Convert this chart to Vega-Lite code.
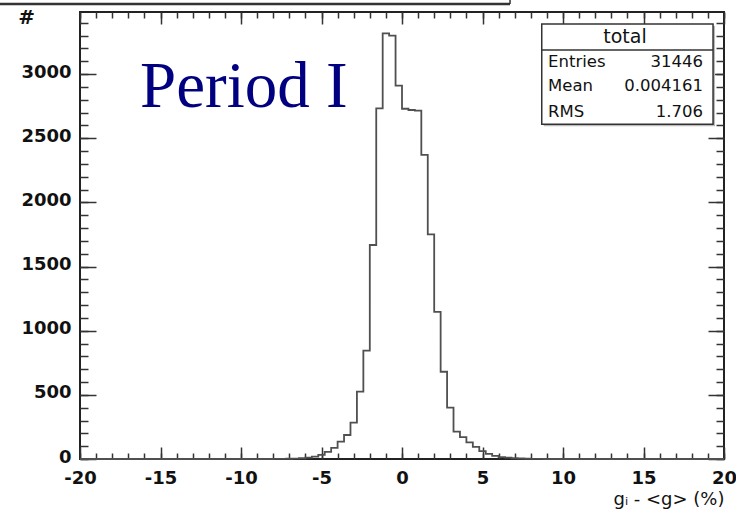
{
  "$schema": "https://vega.github.io/schema/vega-lite/v6.json",
  "width": 644,
  "height": 447,
  "autosize": "none",
  "padding": {"left": 80, "top": 12, "right": 12, "bottom": 51},
  "background": "white",
  "config": {
    "view": {"stroke": "#222", "strokeWidth": 2},
    "axis": {"grid": false, "domain": false, "offset": 0}
  },
  "data": {"values": [
    {"x": -20, "n": 0}, {"x": -8.0, "n": 1}, {"x": -7.6, "n": 1}, {"x": -7.2, "n": 2},
    {"x": -6.8, "n": 3}, {"x": -6.4, "n": 6}, {"x": -6.0, "n": 10}, {"x": -5.6, "n": 18},
    {"x": -5.2, "n": 32}, {"x": -4.8, "n": 55}, {"x": -4.4, "n": 86}, {"x": -4.0, "n": 135},
    {"x": -3.6, "n": 187}, {"x": -3.2, "n": 283}, {"x": -2.8, "n": 525}, {"x": -2.4, "n": 844},
    {"x": -2.0, "n": 1668}, {"x": -1.6, "n": 2733}, {"x": -1.2, "n": 3318}, {"x": -0.8, "n": 3300},
    {"x": -0.4, "n": 2910}, {"x": 0.0, "n": 2730}, {"x": 0.4, "n": 2720}, {"x": 0.8, "n": 2715},
    {"x": 1.2, "n": 2370}, {"x": 1.6, "n": 1751}, {"x": 2.0, "n": 1146}, {"x": 2.4, "n": 680},
    {"x": 2.8, "n": 400}, {"x": 3.2, "n": 213}, {"x": 3.6, "n": 170}, {"x": 4.0, "n": 130},
    {"x": 4.4, "n": 95}, {"x": 4.8, "n": 62}, {"x": 5.2, "n": 40}, {"x": 5.6, "n": 25},
    {"x": 6.0, "n": 15}, {"x": 6.4, "n": 10}, {"x": 6.8, "n": 6}, {"x": 7.2, "n": 4},
    {"x": 7.6, "n": 2}, {"x": 8.0, "n": 1}, {"x": 8.4, "n": 1}, {"x": 8.8, "n": 0}, {"x": 20, "n": 0}
  ]},
  "resolve": {"axis": {"x": "independent", "y": "independent"}},
  "layer": [
    {
      "mark": {"type": "line", "interpolate": "step-after", "color": "#505050", "strokeWidth": 1.8},
      "encoding": {
        "x": {"field": "x", "type": "quantitative", "scale": {"domain": [-20, 20], "nice": false, "zero": false},
          "axis": {"orient": "bottom", "ticks": false, "values": [-20, -15, -10, -5, 0, 5, 10, 15, 20],
            "labelExpr": "'' + datum.value",
            "labelFont": "DejaVu Sans", "labelFontWeight": "bold", "labelFontSize": 18, "labelColor": "#111", "labelPadding": 10,
            "labelFlush": false, "labelOverlap": false,
            "title": "gᵢ - <g>  (%)", "titleFont": "DejaVu Sans", "titleFontWeight": "normal", "titleFontSize": 18, "titleColor": "#111",
            "titleAnchor": "end", "titlePadding": 3}},
        "y": {"field": "n", "type": "quantitative", "scale": {"domain": [0, 3484], "nice": false, "zero": false},
          "axis": {"orient": "left", "ticks": false, "values": [0, 500, 1000, 1500, 2000, 2500, 3000],
            "labelExpr": "'' + datum.value",
            "labelFont": "DejaVu Sans", "labelFontWeight": "bold", "labelFontSize": 18, "labelColor": "#111", "labelPadding": 9,
            "labelOffset": -2,
            "labelFlush": false, "labelOverlap": false,
            "title": "#", "titleFont": "DejaVu Sans", "titleFontWeight": "bold", "titleFontSize": 20, "titleColor": "#111",
            "titleAngle": 0, "titleX": -54, "titleY": 5, "titleAlign": "center", "titleBaseline": "middle"}}
      }
    },
    {
      "mark": {"type": "line", "strokeOpacity": 0},
      "encoding": {
        "x": {"field": "x", "type": "quantitative", "scale": {"domain": [-20, 20], "nice": false, "zero": false},
          "axis": {"orient": "bottom", "labels": false, "title": null, "tickSize": -12, "tickWidth": 1.5, "tickColor": "#333",
            "values": [-20, -15, -10, -5, 0, 5, 10, 15, 20]}},
        "y": {"field": "n", "type": "quantitative", "scale": {"domain": [0, 3484], "nice": false, "zero": false},
          "axis": {"orient": "left", "labels": false, "title": null, "tickSize": -16, "tickWidth": 1.5, "tickColor": "#333",
            "values": [0, 500, 1000, 1500, 2000, 2500, 3000]}}
      }
    },
    {
      "mark": {"type": "line", "strokeOpacity": 0},
      "encoding": {
        "x": {"field": "x", "type": "quantitative", "scale": {"domain": [-20, 20], "nice": false, "zero": false},
          "axis": {"orient": "bottom", "labels": false, "title": null, "tickSize": -6, "tickWidth": 1.5, "tickColor": "#333",
            "values": [-20,-19,-18,-17,-16,-15,-14,-13,-12,-11,-10,-9,-8,-7,-6,-5,-4,-3,-2,-1,0,1,2,3,4,5,6,7,8,9,10,11,12,13,14,15,16,17,18,19,20]}},
        "y": {"field": "n", "type": "quantitative", "scale": {"domain": [0, 3484], "nice": false, "zero": false},
          "axis": {"orient": "left", "labels": false, "title": null, "tickSize": -8, "tickWidth": 1.5, "tickColor": "#333",
            "values": [0,100,200,300,400,500,600,700,800,900,1000,1100,1200,1300,1400,1500,1600,1700,1800,1900,2000,2100,2200,2300,2400,2500,2600,2700,2800,2900,3000,3100,3200,3300,3400]}}
      }
    },
    {
      "mark": {"type": "line", "strokeOpacity": 0},
      "encoding": {
        "x": {"field": "x", "type": "quantitative", "scale": {"domain": [-20, 20], "nice": false, "zero": false},
          "axis": {"orient": "top", "labels": false, "title": null, "tickSize": -12, "tickWidth": 1.5, "tickColor": "#333",
            "values": [-20, -15, -10, -5, 0, 5, 10, 15, 20]}},
        "y": {"field": "n", "type": "quantitative", "scale": {"domain": [0, 3484], "nice": false, "zero": false},
          "axis": {"orient": "right", "labels": false, "title": null, "tickSize": -16, "tickWidth": 1.5, "tickColor": "#333",
            "values": [0, 500, 1000, 1500, 2000, 2500, 3000]}}
      }
    },
    {
      "mark": {"type": "line", "strokeOpacity": 0},
      "encoding": {
        "x": {"field": "x", "type": "quantitative", "scale": {"domain": [-20, 20], "nice": false, "zero": false},
          "axis": {"orient": "top", "labels": false, "title": null, "tickSize": -6, "tickWidth": 1.5, "tickColor": "#333",
            "values": [-20,-19,-18,-17,-16,-15,-14,-13,-12,-11,-10,-9,-8,-7,-6,-5,-4,-3,-2,-1,0,1,2,3,4,5,6,7,8,9,10,11,12,13,14,15,16,17,18,19,20]}},
        "y": {"field": "n", "type": "quantitative", "scale": {"domain": [0, 3484], "nice": false, "zero": false},
          "axis": {"orient": "right", "labels": false, "title": null, "tickSize": -8, "tickWidth": 1.5, "tickColor": "#333",
            "values": [0,100,200,300,400,500,600,700,800,900,1000,1100,1200,1300,1400,1500,1600,1700,1800,1900,2000,2100,2200,2300,2400,2500,2600,2700,2800,2900,3000,3100,3200,3300,3400]}}
      }
    },
    {
      "data": {"values": [{"label": "Period I"}]},
      "mark": {"type": "text", "align": "left", "baseline": "alphabetic", "font": "Liberation Serif", "fontSize": 65, "color": "#000080"},
      "encoding": {
        "x": {"datum": -16.27, "type": "quantitative", "axis": null},
        "y": {"datum": 2743, "type": "quantitative", "axis": null},
        "text": {"field": "label"}
      }
    },
    {
      "data": {"values": [{}]},
      "mark": {"type": "rect", "fill": "#bbbbbb", "xOffset": 2, "yOffset": 2, "x2Offset": 2, "y2Offset": 2},
      "encoding": {
        "x": {"datum": 8.68, "type": "quantitative", "axis": null},
        "x2": {"datum": 19.32},
        "y": {"datum": 3390, "type": "quantitative", "axis": null},
        "y2": {"datum": 2610}
      }
    },
    {
      "data": {"values": [{}]},
      "mark": {"type": "rect", "fill": "white", "stroke": "#333", "strokeWidth": 1.5},
      "encoding": {
        "x": {"datum": 8.68, "type": "quantitative", "axis": null},
        "x2": {"datum": 19.32},
        "y": {"datum": 3390, "type": "quantitative", "axis": null},
        "y2": {"datum": 2610}
      }
    },
    {
      "data": {"values": [{}]},
      "mark": {"type": "rule", "stroke": "#333", "strokeWidth": 1.5},
      "encoding": {
        "x": {"datum": 8.68, "type": "quantitative", "axis": null},
        "x2": {"datum": 19.32},
        "y": {"datum": 3187, "type": "quantitative", "axis": null}
      }
    },
    {
      "data": {"values": [{"t": "total"}]},
      "mark": {"type": "text", "align": "center", "baseline": "middle", "font": "DejaVu Sans", "fontSize": 19, "color": "#111"},
      "encoding": {
        "x": {"datum": 13.85, "type": "quantitative", "axis": null},
        "y": {"datum": 3288, "type": "quantitative", "axis": null},
        "text": {"field": "t"}
      }
    },
    {
      "data": {"values": [{"k": "Entries", "v": "31446", "y": 3096}, {"k": "Mean", "v": "0.004161", "y": 2907}, {"k": "RMS", "v": "1.706", "y": 2706}]},
      "layer": [
        {
          "mark": {"type": "text", "align": "left", "baseline": "middle", "font": "DejaVu Sans", "fontSize": 16.5, "color": "#111"},
          "encoding": {
            "x": {"datum": 9.07, "type": "quantitative", "axis": null},
            "y": {"field": "y", "type": "quantitative", "axis": null},
            "text": {"field": "k"}
          }
        },
        {
          "mark": {"type": "text", "align": "right", "baseline": "middle", "font": "DejaVu Sans", "fontSize": 16.5, "color": "#111"},
          "encoding": {
            "x": {"datum": 18.7, "type": "quantitative", "axis": null},
            "y": {"field": "y", "type": "quantitative", "axis": null},
            "text": {"field": "v"}
          }
        }
      ]
    },
    {
      "data": {"values": [{}]},
      "mark": {"type": "rule", "stroke": "#333", "strokeWidth": 2.5},
      "encoding": {
        "x": {"datum": -25, "type": "quantitative", "axis": null},
        "x2": {"datum": 6.71},
        "y": {"datum": 3546, "type": "quantitative", "axis": null}
      }
    },
    {
      "data": {"values": [{}]},
      "mark": {"type": "rule", "stroke": "#333", "strokeWidth": 1.5},
      "encoding": {
        "x": {"datum": 6.71, "type": "quantitative", "axis": null},
        "y": {"datum": 3546, "type": "quantitative", "axis": null},
        "y2": {"datum": 3600}
      }
    }
  ]
}
